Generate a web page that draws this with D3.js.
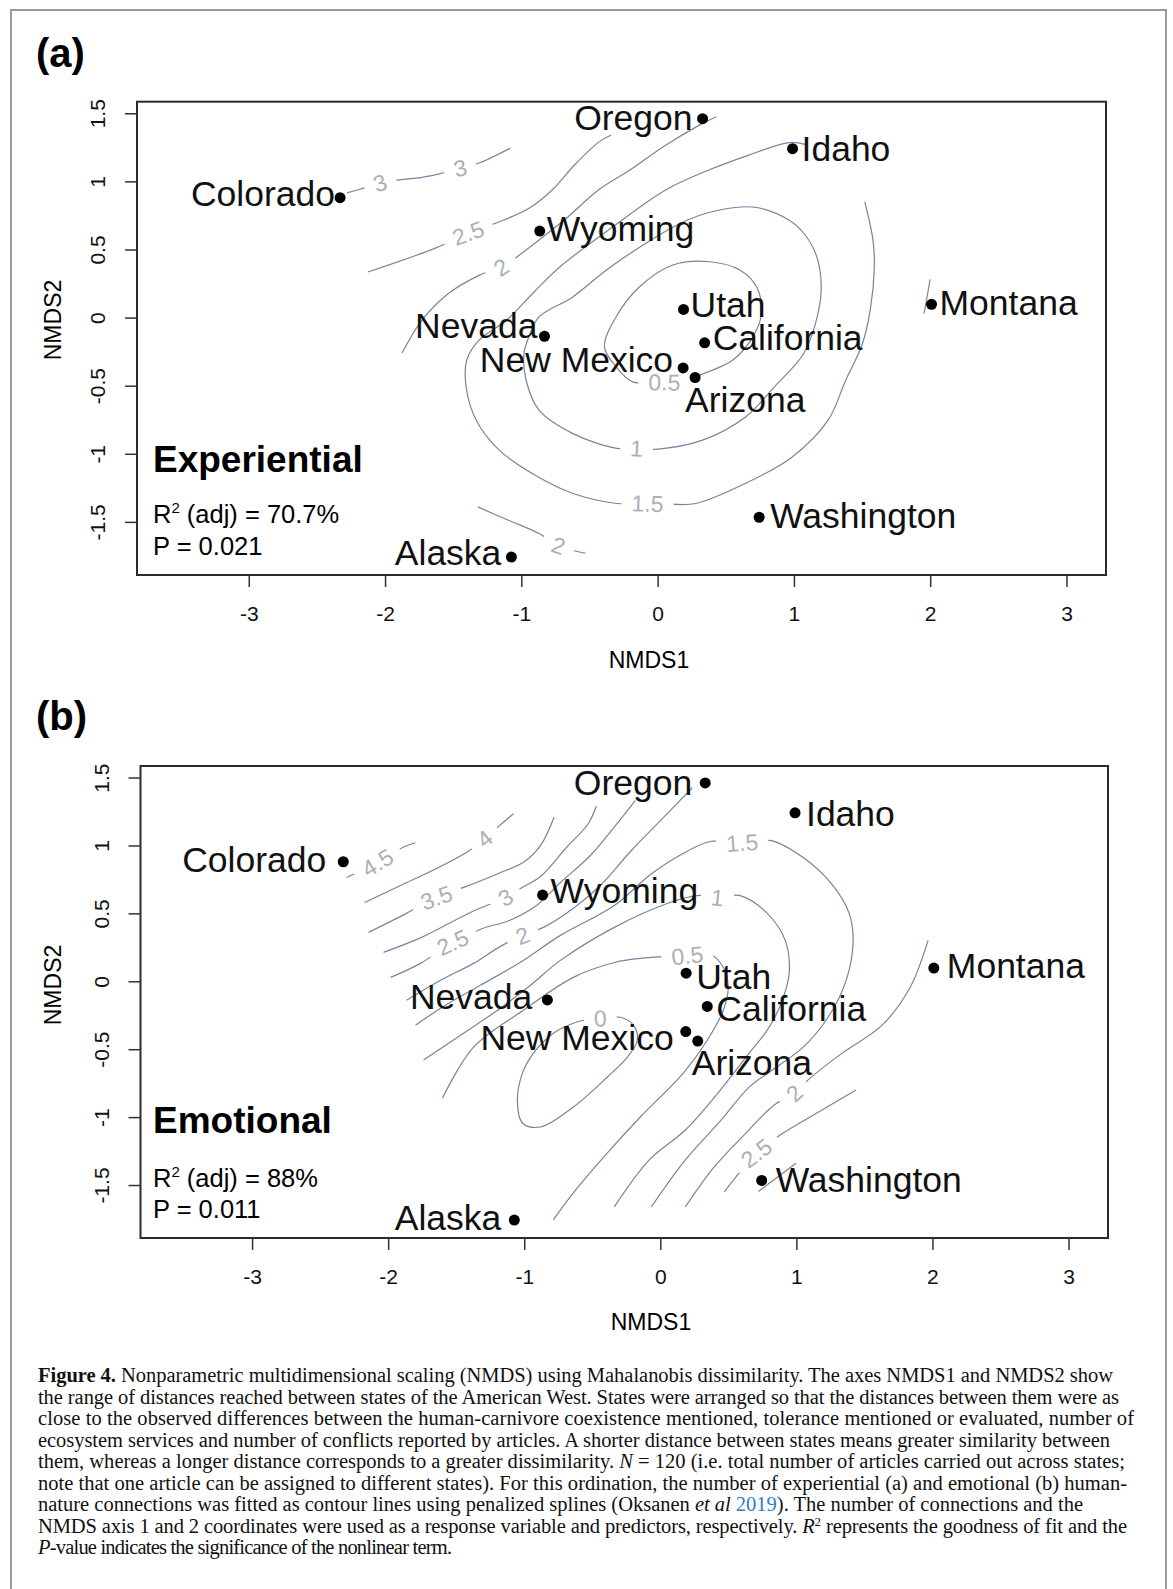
<!DOCTYPE html>
<html lang="en">
<head>
  <meta charset="UTF-8" />
  <title>Figure 4 - NMDS with fitted surfaces</title>
  <script src="https://cdn.jsdelivr.net/npm/d3@7"></script>
  <style>
    body { margin: 0; background: #fff; }
    svg { display: block; font-family: "Liberation Sans", Arial, sans-serif; }
    .contour { fill: none; stroke: #7485a0; stroke-width: 1.2; }
    .clabel { fill: #aab0b8; font-size: 23px; }
    .state { font-size: 35.5px; fill: #111; }
    .tick line { stroke: #333; stroke-width: 1.5; }
    .tick text { font-size: 21px; fill: #111; }
    .caption { font-family: "Liberation Serif", "Times New Roman", serif; font-size: 20.5px; fill: #111; }
  </style>
</head>
<body>
<svg width="1173" height="1589"></svg>
<script>
  // ordination scores (shared by both panels)
  const states = ["Colorado", "Oregon", "Idaho", "Wyoming", "Utah", "California",
                  "New Mexico", "Arizona", "Nevada", "Montana", "Washington", "Alaska"];
  const nmds1 = [-2.33, 0.33, 0.99, -0.865, 0.19, 0.345, 0.187, 0.275, -0.83, 2.01, 0.745, -1.073];
  const nmds2 = [0.88, 1.46, 1.24, 0.635, 0.06, -0.185, -0.37, -0.44, -0.137, 0.097, -1.466, -1.758];

  const xTicks = [-3, -2, -1, 0, 1, 2, 3];
  const yTicks = [-1.5, -1, -0.5, 0, 0.5, 1, 1.5];

  // fitted surface contours (NMDS1, NMDS2)
  const expLines = [
    { level: 3, pts: [[-2.28,0.915],[-2.19,0.94],[-2.04,0.99],[-1.73,1.03],[-1.60,1.055],[-1.45,1.10],[-1.31,1.135],[-1.08,1.245]] },
    { level: 2.5, pts: [[-2.125,0.335],[-1.63,0.51],[-1.39,0.62],[-1.17,0.70],[-0.94,0.805],[-0.77,0.94],[-0.61,1.12],[-0.43,1.29],[-0.34,1.34]] },
    { level: 2, pts: [[-1.875,-0.26],[-1.73,-0.02],[-1.53,0.18],[-1.31,0.31],[-1.15,0.37],[-1.04,0.44],[-0.87,0.57],[-0.68,0.72],[-0.43,0.94],[-0.20,1.085],[0.05,1.26],[0.31,1.415],[0.43,1.475]] },
    { level: 2, pts: [[-1.32,-1.39],[-1.09,-1.49],[-0.87,-1.585],[-0.73,-1.673],[-0.62,-1.71],[-0.53,-1.73]] },
    { level: 2, pts: [[2.0,0.28],[1.955,0.03]] },
    { level: 1.5, pts: [[1.52,0.85],[1.58,0.57],[1.59,0.37],[1.56,0.055],[1.50,-0.20],[1.38,-0.46],[1.25,-0.755],[0.985,-1.025],[0.65,-1.215],[0.28,-1.365],[0.09,-1.37],[-0.075,-1.365],[-0.30,-1.365],[-0.625,-1.29],[-0.92,-1.145],[-1.16,-0.975],[-1.33,-0.755],[-1.405,-0.51],[-1.40,-0.31],[-1.31,-0.165],[-1.11,-0.02],[-0.905,0.19],[-0.72,0.37],[-0.33,0.665],[0.065,0.94],[0.38,1.085],[0.675,1.195],[0.965,1.285],[1.09,1.27]] },
    { level: 1, closed: true, pts: [[-0.87,0.005],[-0.94,-0.13],[-0.98,-0.26],[-0.965,-0.46],[-0.87,-0.68],[-0.625,-0.85],[-0.30,-0.96],[-0.155,-0.96],[-0.015,-0.967],[0.33,-0.90],[0.645,-0.73],[0.855,-0.51],[1.065,-0.275],[1.155,-0.055],[1.20,0.20],[1.17,0.44],[1.08,0.61],[0.965,0.715],[0.715,0.81],[0.455,0.79],[0.215,0.715],[-0.015,0.59],[-0.375,0.35],[-0.625,0.15]] },
    { level: 0.5, closed: true, pts: [[0.186,-0.46],[0.272,-0.435],[0.554,-0.31],[0.70,-0.14],[0.762,0.03],[0.726,0.226],[0.603,0.35],[0.382,0.41],[0.112,0.386],[-0.132,0.226],[-0.304,0.006],[-0.39,-0.215],[-0.304,-0.362],[-0.182,-0.472],[0.03,-0.475]] }
  ];
  const expLabels = [
    { level: 3, x: -2.037, y: 0.989 }, { level: 3, x: -1.449, y: 1.099 },
    { level: 2.5, x: -1.39, y: 0.621 }, { level: 2, x: -1.147, y: 0.371 },
    { level: 2, x: -0.728, y: -1.673 }, { level: 1.5, x: -0.074, y: -1.364 },
    { level: 1, x: -0.154, y: -0.96 }, { level: 0.5, x: 0.05, y: -0.474 }
  ];

  const emoLines = [
    { level: 4.5, pts: [[-2.305,0.764],[-2.078,0.874],[-1.894,0.985],[-1.80,1.02]] },
    { level: 4, pts: [[-2.173,0.58],[-1.909,0.705],[-1.615,0.845],[-1.402,0.963],[-1.292,1.051],[-1.182,1.146],[-1.079,1.234]] },
    { level: 3.5, pts: [[-2.144,0.36],[-1.865,0.50],[-1.645,0.617],[-1.446,0.691],[-1.189,0.794],[-1.0,0.88],[-0.88,1.0],[-0.78,1.21]] },
    { level: 3, pts: [[-2.034,0.213],[-1.755,0.323],[-1.395,0.507],[-1.138,0.617],[-1.028,0.683],[-0.881,0.771],[-0.69,0.985],[-0.53,1.16],[-0.47,1.29]] },
    { level: 2.5, pts: [[-1.982,0.029],[-1.762,0.132],[-1.527,0.287],[-1.307,0.389],[-1.109,0.448],[-0.91,0.558],[-0.734,0.727],[-0.514,0.926],[-0.33,1.146],[-0.184,1.33]] },
    { level: 2, pts: [[-1.865,-0.14],[-1.615,0.007],[-1.373,0.132],[-1.175,0.257],[-1.013,0.338],[-0.859,0.397],[-0.631,0.544],[-0.441,0.705],[-0.213,0.963],[0.051,1.234],[0.235,1.425]] },
    { level: 2, pts: [[0.184,-1.661],[0.396,-1.367],[0.602,-1.146],[0.837,-0.911],[0.984,-0.823],[1.101,-0.713],[1.336,-0.529],[1.63,-0.323],[1.836,-0.044],[1.968,0.301]] },
    { level: 2.5, pts: [[0.47,-1.55],[0.551,-1.447],[0.705,-1.264],[0.881,-1.132],[1.101,-0.999],[1.439,-0.801]] },
    { level: 3, pts: [[0.721,-1.548],[0.997,-1.339]] },
    { level: 1.5, pts: [[-1.799,-0.323],[-1.579,-0.176],[-1.322,-0.029],[-1.028,0.14],[-0.734,0.338],[-0.338,0.558],[-0.081,0.779],[0.154,0.933],[0.367,1.029],[0.602,1.021],[0.815,1.036],[1.05,0.911],[1.256,0.72],[1.388,0.5],[1.417,0.301],[1.366,0.007],[1.233,-0.265],[1.05,-0.485],[0.844,-0.639],[0.653,-0.779],[0.448,-1.021],[0.184,-1.315],[-0.066,-1.661]] },
    { level: 1, pts: [[-1.74,-0.58],[-1.468,-0.397],[-1.175,-0.198],[-0.954,-0.029],[-0.734,0.154],[-0.338,0.397],[0.051,0.573],[0.286,0.632],[0.419,0.617],[0.58,0.632],[0.786,0.5],[0.918,0.301],[0.947,0.059],[0.888,-0.162],[0.786,-0.36],[0.653,-0.529],[0.441,-0.801],[0.184,-1.095],[-0.081,-1.315],[-0.338,-1.661]] },
    { level: 0.5, pts: [[-1.601,-0.86],[-1.373,-0.485],[-1.006,-0.213],[-0.639,0.029],[-0.33,0.14],[-0.147,0.169],[0.198,0.191],[0.352,0.206],[0.463,0.103],[0.499,-0.044],[0.463,-0.213],[0.345,-0.434],[0.169,-0.676],[-0.147,-0.999],[-0.389,-1.264],[-0.639,-1.558],[-0.786,-1.756]] },
    { level: 0, closed: true, pts: [[-0.441,-0.272],[-0.294,-0.265],[-0.198,-0.323],[-0.169,-0.434],[-0.242,-0.558],[-0.389,-0.705],[-0.639,-0.926],[-0.881,-1.073],[-1.013,-1.043],[-1.05,-0.874],[-1.013,-0.676],[-0.932,-0.529],[-0.786,-0.382],[-0.639,-0.309],[-0.565,-0.287]] }
  ];
  const emoLabels = [
    { level: 4.5, x: -2.078, y: 0.874 }, { level: 4, x: -1.292, y: 1.051 },
    { level: 3.5, x: -1.645, y: 0.617 }, { level: 3, x: -1.138, y: 0.617 },
    { level: 2.5, x: -1.527, y: 0.287 }, { level: 2, x: -1.013, y: 0.338 },
    { level: 1.5, x: 0.602, y: 1.021 }, { level: 1, x: 0.419, y: 0.617 },
    { level: 0.5, x: 0.198, y: 0.191 }, { level: 0, x: -0.441, y: -0.272 },
    { level: 2, x: 0.984, y: -0.823 }, { level: 2.5, x: 0.705, y: -1.264 }
  ];

  const captionLines = [
    [["b", "Figure 4."], ["", " Nonparametric multidimensional scaling (NMDS) using Mahalanobis dissimilarity. The axes NMDS1 and NMDS2 show"]],
    [["", "the range of distances reached between states of the American West. States were arranged so that the distances between them were as"]],
    [["", "close to the observed differences between the human-carnivore coexistence mentioned, tolerance mentioned or evaluated, number of"]],
    [["", "ecosystem services and number of conflicts reported by articles. A shorter distance between states means greater similarity between"]],
    [["", "them, whereas a longer distance corresponds to a greater dissimilarity. "], ["i", "N"], ["", " =  120 (i.e. total number of articles carried out across states;"]],
    [["", "note that one article can be assigned to different states). For this ordination, the number of experiential (a) and emotional (b) human-"]],
    [["", "nature connections was fitted as contour lines using penalized splines (Oksanen "], ["i", "et al"], ["", " "], ["link", "2019"], ["", "). The number of connections and the"]],
    [["", "NMDS axis 1 and 2 coordinates were used as a response variable and predictors, respectively. "], ["i", "R"], ["sup", "2"], ["", " represents the goodness of fit and the"]],
    [["i", "P"], ["", "-value indicates the significance of the nonlinear term."]]
  ];
  const captionEnds = [1113, 1119, 1134, 1110, 1125, 1127, 1083, 1127, 452];

  // layout (pixels)
  const side = { Colorado: "end", Oregon: "end", Idaho: "start", Wyoming: "start", Utah: "start",
    California: "start", "New Mexico": "end", Arizona: "start", Nevada: "end", Montana: "start",
    Washington: "start", Alaska: "end" };
  const offsetsA = { Colorado: [-5, 8], Oregon: [-10, 11], Idaho: [9, 12], Wyoming: [7, 10], Utah: [7, 8],
    California: [8, 7], "New Mexico": [-10, 4], Arizona: [-10, 34], Nevada: [-7, 2], Montana: [8, 11],
    Washington: [11, 11], Alaska: [-10, 8] };
  const offsetsB = { Colorado: [-17, 10], Oregon: [-13, 12], Idaho: [11, 13], Wyoming: [8, 8], Utah: [10, 16],
    California: [9, 15], "New Mexico": [-12, 18], Arizona: [-6, 34], Nevada: [-15, 9], Montana: [13, 10],
    Washington: [14, 12], Alaska: [-13, 10] };

  const panels = [
    { tag: "(a)", name: "Experiential", r2: "70.7%", p: "0.021", lines: expLines, labels: expLabels, offsets: offsetsA,
      left: 137, top: 101.7, right: 1106, bottom: 575, tagY: 67, titleY: 472, r2Y: 523, pY: 555,
      xTitleX: 649, xTitleY: 668, yTitleY: 320 },
    { tag: "(b)", name: "Emotional", r2: "88%", p: "0.011", lines: emoLines, labels: emoLabels, offsets: offsetsB,
      left: 140.5, top: 766, right: 1108, bottom: 1238, tagY: 730, titleY: 1133, r2Y: 1187, pY: 1218,
      xTitleX: 651, xTitleY: 1330, yTitleY: 985 }
  ];

  const svg = d3.select("svg");

  // outer figure frame
  svg.append("rect").attr("x", 11).attr("y", 10).attr("width", 1155).attr("height", 1600)
    .attr("fill", "none").attr("stroke", "#9a9a9a").attr("stroke-width", 2);

  panels.forEach(pn => {
    const x = d3.scaleLinear().domain([-3.82, 3.29]).range([pn.left, pn.right]);
    const y = d3.scaleLinear().domain([-1.89, 1.585]).range([pn.bottom, pn.top]);
    const g = svg.append("g");

    // contours
    const open = d3.line().x(d => x(d[0])).y(d => y(d[1])).curve(d3.curveCatmullRom.alpha(0.5));
    const closed = d3.line().x(d => x(d[0])).y(d => y(d[1])).curve(d3.curveCatmullRomClosed.alpha(0.5));
    g.selectAll("path.contour").data(pn.lines).join("path")
      .attr("class", "contour")
      .attr("d", d => (d.closed ? closed : open)(d.pts));

    // contour labels, rotated along the nearest line segment, with a gap in the line
    pn.labels.forEach(lb => {
      const px = x(lb.x), py = y(lb.y);
      let best = null, bestD = Infinity;
      pn.lines.filter(l => l.level === lb.level).forEach(l => {
        for (let i = 0; i < l.pts.length - 1; i++) {
          const ax = x(l.pts[i][0]), ay = y(l.pts[i][1]);
          const bx = x(l.pts[i + 1][0]), by = y(l.pts[i + 1][1]);
          const mx = (ax + bx) / 2, my = (ay + by) / 2;
          const dd = (mx - px) ** 2 + (my - py) ** 2;
          if (dd < bestD) { bestD = dd; best = [bx - ax, by - ay]; }
        }
      });
      let ang = best ? Math.atan2(best[1], best[0]) * 180 / Math.PI : 0;
      if (ang > 90) ang -= 180;
      if (ang < -90) ang += 180;
      const lg = g.append("g").attr("transform", `translate(${px},${py}) rotate(${ang})`);
      const gap = lg.append("rect").attr("fill", "#fff");
      const t = lg.append("text").attr("class", "clabel")
        .attr("text-anchor", "middle").attr("dy", "0.36em").text(String(lb.level));
      const w = t.node().getComputedTextLength() + 20;
      gap.attr("x", -w / 2).attr("y", -6).attr("width", w).attr("height", 12);
    });

    // points and state names
    g.selectAll("circle").data(states).join("circle")
      .attr("cx", (d, i) => x(nmds1[i])).attr("cy", (d, i) => y(nmds2[i])).attr("r", 5.5).attr("fill", "#000");
    g.selectAll("text.state").data(states).join("text")
      .attr("class", "state")
      .attr("text-anchor", d => side[d])
      .attr("x", (d, i) => x(nmds1[i]) + pn.offsets[d][0])
      .attr("y", (d, i) => y(nmds2[i]) + pn.offsets[d][1])
      .text(d => d);

    // box and axes
    g.append("rect").attr("x", pn.left).attr("y", pn.top)
      .attr("width", pn.right - pn.left).attr("height", pn.bottom - pn.top)
      .attr("fill", "none").attr("stroke", "#2b2b2b").attr("stroke-width", 2);

    const xa = g.append("g").attr("transform", `translate(0,${pn.bottom})`)
      .call(d3.axisBottom(x).tickValues(xTicks).tickSize(12));
    xa.select(".domain").remove();
    xa.selectAll(".tick text").attr("y", 46).attr("dy", null).text(d => String(d));

    const ya = g.append("g").attr("transform", `translate(${pn.left},0)`)
      .call(d3.axisLeft(y).tickValues(yTicks).tickSize(12));
    ya.select(".domain").remove();
    ya.selectAll(".tick text")
      .attr("x", null).attr("dy", null).attr("text-anchor", "middle")
      .attr("transform", "translate(-32,0) rotate(-90)")
      .text(d => String(d));

    g.append("text").attr("x", pn.xTitleX).attr("y", pn.xTitleY).attr("text-anchor", "middle")
      .style("font-size", "23px").text("NMDS1");
    g.append("text").attr("transform", `translate(61,${pn.yTitleY}) rotate(-90)`).attr("text-anchor", "middle")
      .style("font-size", "23px").text("NMDS2");

    // panel tag and fit statistics
    g.append("text").attr("x", 36).attr("y", pn.tagY).style("font-size", "40px").style("font-weight", "bold").text(pn.tag);
    g.append("text").attr("x", 153).attr("y", pn.titleY).style("font-size", "37px").style("font-weight", "bold").text(pn.name);
    const r2 = g.append("text").attr("x", 153).attr("y", pn.r2Y).style("font-size", "25.5px");
    r2.append("tspan").text("R");
    r2.append("tspan").attr("dy", -10).style("font-size", "15px").text("2");
    r2.append("tspan").attr("dy", 10).text(" (adj) = " + pn.r2);
    g.append("text").attr("x", 153).attr("y", pn.pY).style("font-size", "25.5px").text("P = " + pn.p);
  });

  // caption
  captionLines.forEach((parts, i) => {
    const t = svg.append("text").attr("class", "caption")
      .attr("x", 38).attr("y", 1382 + i * 21.5)
      .attr("textLength", captionEnds[i] - 38).attr("lengthAdjust", "spacing");
    let afterSup = false;
    parts.forEach(([kind, s]) => {
      const sp = t.append("tspan").text(s);
      if (kind === "b") sp.style("font-weight", "bold");
      if (kind === "i") sp.style("font-style", "italic");
      if (kind === "link") sp.attr("fill", "#2a7fc1");
      if (kind === "sup") sp.attr("dy", -7).style("font-size", "13px");
      if (afterSup) sp.attr("dy", 7);
      afterSup = kind === "sup";
    });
  });
</script>
</body>
</html>
